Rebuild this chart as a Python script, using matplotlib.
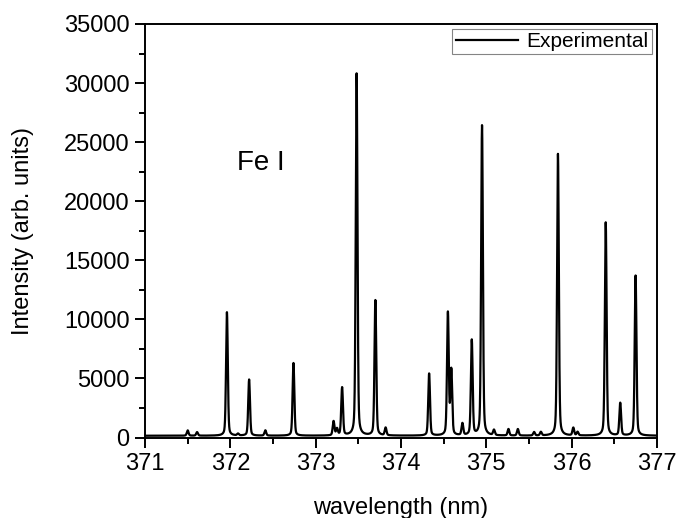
import numpy as np
import matplotlib
matplotlib.use("Agg")
import matplotlib.pyplot as plt
from matplotlib.ticker import MultipleLocator

plt.rcParams["font.family"] = ["Liberation Sans", "DejaVu Sans"]

# Fe I emission lines: centre (nm) and peak intensity
line_centers = [371.50, 371.61, 371.96, 372.09, 372.22, 372.41, 372.74, 373.21,
                373.25, 373.31, 373.48, 373.70, 373.82, 374.33, 374.55, 374.59,
                374.72, 374.83, 374.95, 375.09, 375.26, 375.37, 375.56, 375.64,
                375.84, 376.02, 376.07, 376.40, 376.57, 376.75]
line_heights = [600, 450, 10600, 300, 4900, 600, 6300, 1350,
                700, 4200, 30800, 11600, 800, 5400, 10500, 5600,
                1150, 8200, 26400, 600, 700, 700, 450, 450,
                24000, 800, 450, 18200, 2900, 13700]
baseline = 150

wl = np.linspace(371.0, 377.0, 6001)
spec = np.full_like(wl, baseline, dtype=float)
sigma, gamma = 0.010, 0.014
for c, h in zip(line_centers, line_heights):
    amp = h - baseline
    gauss = np.exp(-0.5 * ((wl - c) / sigma) ** 2)
    lor = 1.0 / (1.0 + ((wl - c) / gamma) ** 2)
    spec += amp * (0.75 * gauss + 0.25 * lor)

fig = plt.figure(figsize=(6.78, 5.18), dpi=100)
ax = fig.add_axes([0.2139, 0.1554, 0.755, 0.7983])
ax.plot(wl, spec, color="black", lw=1.6, label="Experimental")

ax.set_xlim(371, 377)
ax.set_ylim(0, 35000)
ax.xaxis.set_major_locator(MultipleLocator(1))
ax.xaxis.set_minor_locator(MultipleLocator(0.5))
ax.yaxis.set_major_locator(MultipleLocator(5000))
ax.yaxis.set_minor_locator(MultipleLocator(2500))
ax.tick_params(which="major", direction="out", length=7, width=1.4, labelsize=17, pad=4)
ax.tick_params(which="minor", direction="out", length=4, width=1.4)
for s in ax.spines.values():
    s.set_linewidth(1.4)

ax.set_xlabel("wavelength (nm)", fontsize=17, labelpad=16)
ax.set_ylabel("Intensity (arb. units)", fontsize=17, labelpad=22)
ax.text(372.08, 23200, "Fe I", fontsize=20, va="center", ha="left")

leg = ax.legend(loc="upper right", fontsize=15, frameon=True, fancybox=False,
                handlelength=3.0, borderaxespad=0.25, borderpad=0.15,
                handletextpad=0.4)
leg.get_frame().set_edgecolor("#666666")
leg.get_frame().set_linewidth(0.8)

fig.savefig("out.png", dpi=100)
